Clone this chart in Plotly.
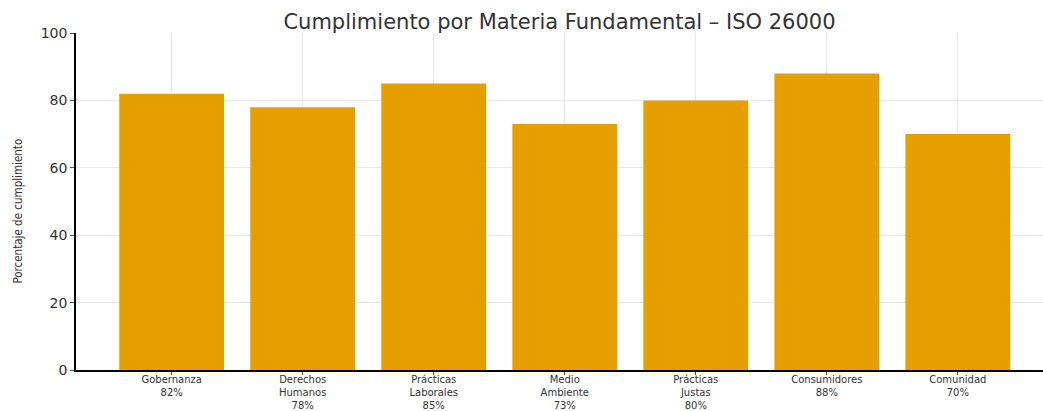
import plotly.graph_objects as go

categorias = ["Gobernanza", "Derechos<br>Humanos", "Prácticas<br>Laborales", "Medio<br>Ambiente",
              "Prácticas<br>Justas", "Consumidores", "Comunidad"]
valores = [82, 78, 85, 73, 80, 88, 70]
etiquetas = [f"{c}<br>{v}%" for c, v in zip(categorias, valores)]
y_ticks = [0, 20, 40, 60, 80, 100]

fig = go.Figure(go.Bar(
    x=list(range(len(valores))), y=valores, width=0.8,
    marker=dict(color="#E69F00", line=dict(width=0)),
))

fig.update_layout(
    width=1043, height=411,
    margin=dict(l=76, r=0, t=33, b=41),
    paper_bgcolor="white", plot_bgcolor="white",
    font=dict(family="DejaVu Sans", color="#333333"),
    title=dict(text="Cumplimiento por Materia Fundamental – ISO 26000",
               x=0.5, xref="paper", y=0.947, yanchor="middle",
               font=dict(size=21, color="#333333", family="DejaVu Sans")),
    showlegend=False,
    annotations=[dict(text="Porcentaje de cumplimiento", textangle=-90,
                      x=0, xref="paper", xshift=-58, xanchor="center",
                      y=0.47, yref="paper", yanchor="middle", showarrow=False,
                      font=dict(size=11.5, family="DejaVu Sans Condensed", color="#333333"))],
)
fig.update_xaxes(
    tickmode="array", tickvals=list(range(len(valores))), ticktext=etiquetas,
    range=[-0.73, 6.65], showgrid=True, gridcolor="#e8e8e8", gridwidth=1,
    showline=True, linecolor="black", linewidth=1.5,
    ticks="outside", ticklen=3, tickcolor="#555555",
    tickfont=dict(size=10, color="#333333"), zeroline=False,
    automargin=False, ticklabelstandoff=-4,
)
fig.update_yaxes(
    range=[0, 100], tickvals=y_ticks, showgrid=True, gridcolor="#e8e8e8", gridwidth=1,
    showline=True, linecolor="black", linewidth=1.5,
    ticks="outside", ticklen=4, tickcolor="#555555",
    tickfont=dict(size=14, color="#333333"), zeroline=False, automargin=False,
)

fig.write_html("out.html", config={"displayModeBar": False},
               post_script="document.body.style.margin='0';")
